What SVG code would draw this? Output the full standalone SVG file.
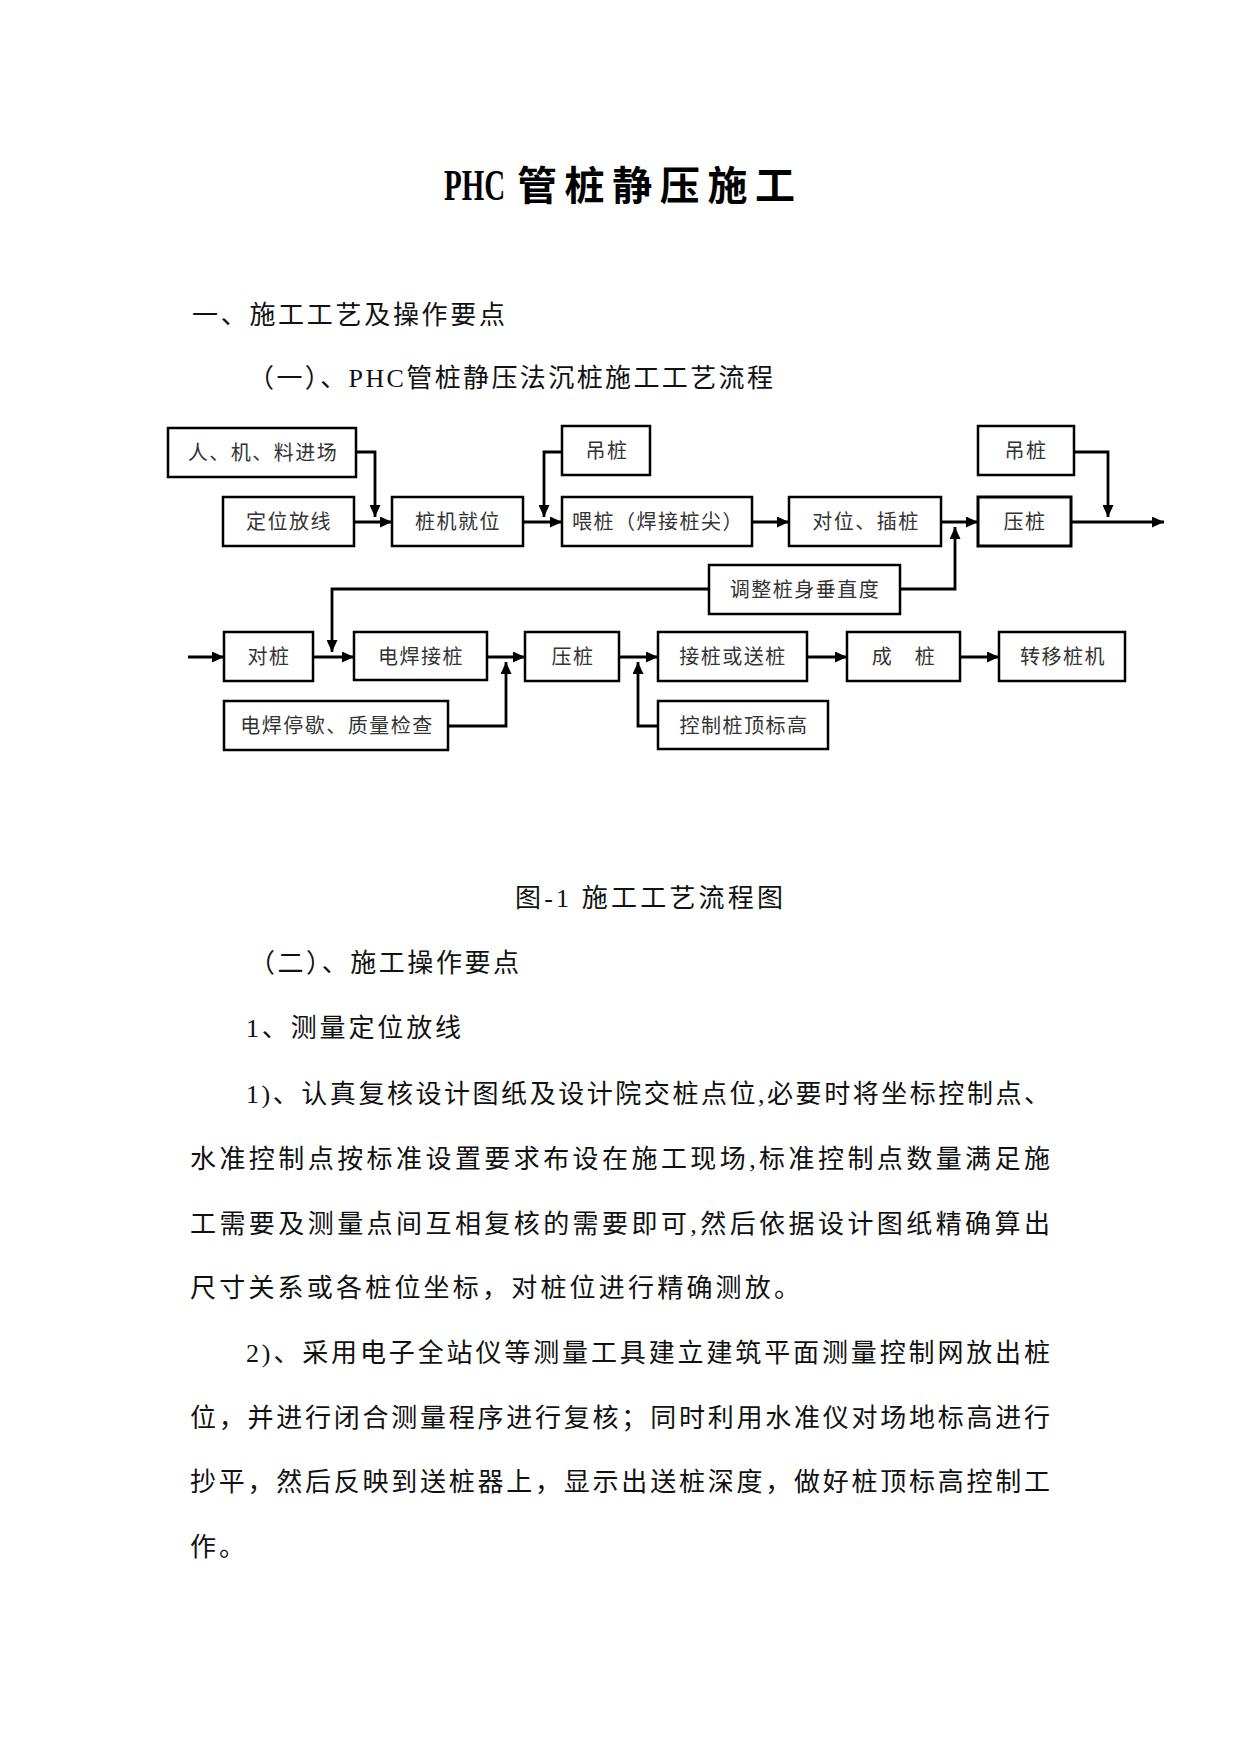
<svg xmlns="http://www.w3.org/2000/svg" width="1241" height="1754" viewBox="0 0 1241 1754">
<style>
.t{font-family:"Liberation Serif","Noto Sans CJK SC",serif;font-size:26px;fill:#111;}
.title{font-family:"Liberation Serif","Noto Sans CJK SC",serif;font-weight:bold;fill:#000;}
.box rect{fill:#fff;stroke:#000;stroke-width:2.5;}
.box text{font-family:"Liberation Serif","Noto Sans CJK SC",serif;font-size:20px;fill:#333;text-anchor:middle;letter-spacing:1.5px;}
.conn path{fill:none;stroke:#000;stroke-width:2.8;}
</style>
<defs>
<marker id="ah" markerUnits="userSpaceOnUse" markerWidth="13" markerHeight="11" refX="12" refY="5.5" orient="auto">
<path d="M0,0 L12,5.5 L0,11 z" fill="#000"/>
</marker>
</defs>
<rect width="1241" height="1754" fill="#fff"/>

<text class="title" transform="translate(444,200) scale(1,1.5)" font-size="29">PHC</text>
<text class="title" x="517" y="200" font-size="40" letter-spacing="7.6">管桩静压施工</text>

<text class="t" x="192" y="324" textLength="313">一、施工工艺及操作要点</text>
<text class="t" x="248" y="387" textLength="525">（一）、PHC管桩静压法沉桩施工工艺流程</text>

<g class="conn">
<path d="M356,452 H375 V517" marker-end="url(#ah)"/>
<path d="M354,522 H392" marker-end="url(#ah)"/>
<path d="M562,452 H544 V517" marker-end="url(#ah)"/>
<path d="M523,522 H562" marker-end="url(#ah)"/>
<path d="M752,522 H789" marker-end="url(#ah)"/>
<path d="M941,522 H978" marker-end="url(#ah)"/>
<path d="M900,589 H955 V527" marker-end="url(#ah)"/>
<path d="M1071,522 H1164" marker-end="url(#ah)"/>
<path d="M1074,452 H1108 V517" marker-end="url(#ah)"/>
<path d="M709,589 H332 V652" marker-end="url(#ah)"/>
<path d="M188,657 H224" marker-end="url(#ah)"/>
<path d="M313,657 H354" marker-end="url(#ah)"/>
<path d="M487,657 H525" marker-end="url(#ah)"/>
<path d="M448,726 H506 V662" marker-end="url(#ah)"/>
<path d="M619,657 H658" marker-end="url(#ah)"/>
<path d="M658,726 H638 V662" marker-end="url(#ah)"/>
<path d="M807,657 H847" marker-end="url(#ah)"/>
<path d="M960,657 H999" marker-end="url(#ah)"/>
</g>

<g id="n1" class="box"><rect x="168" y="428" width="188" height="49"/><text x="263" y="460">人、机、料进场</text></g>
<g id="n2" class="box"><rect x="223" y="497" width="131" height="49"/><text x="289" y="529">定位放线</text></g>
<g id="n3" class="box"><rect x="392" y="497" width="131" height="49"/><text x="458" y="529">桩机就位</text></g>
<g id="n4" class="box"><rect x="562" y="426" width="88" height="49"/><text x="607" y="458">吊桩</text></g>
<g id="n5" class="box"><rect x="562" y="497" width="190" height="49"/><text x="658" y="529">喂桩（焊接桩尖）</text></g>
<g id="n6" class="box"><rect x="789" y="497" width="152" height="49"/><text x="866" y="529">对位、插桩</text></g>
<g id="n7" class="box"><rect x="978" y="497" width="93" height="49" style="stroke-width:3"/><text x="1025" y="529">压桩</text></g>
<g id="n8" class="box"><rect x="978" y="426" width="96" height="49"/><text x="1026" y="458">吊桩</text></g>
<g id="n9" class="box"><rect x="709" y="565" width="191" height="49"/><text x="805" y="597">调整桩身垂直度</text></g>
<g id="n10" class="box"><rect x="224" y="632" width="89" height="49"/><text x="269" y="664">对桩</text></g>
<g id="n11" class="box"><rect x="354" y="632" width="133" height="48"/><text x="421" y="664">电焊接桩</text></g>
<g id="n12" class="box"><rect x="525" y="632" width="94" height="49"/><text x="573" y="664">压桩</text></g>
<g id="n13" class="box"><rect x="224" y="701" width="224" height="49"/><text x="337" y="733">电焊停歇、质量检查</text></g>
<g id="n14" class="box"><rect x="658" y="632" width="149" height="49"/><text x="733" y="664">接桩或送桩</text></g>
<g id="n15" class="box"><rect x="658" y="701" width="170" height="48"/><text x="744" y="733">控制桩顶标高</text></g>
<g id="n16" class="box"><rect x="847" y="632" width="113" height="49"/><text x="904" y="664">成　桩</text></g>
<g id="n17" class="box"><rect x="999" y="632" width="126" height="49"/><text x="1063" y="664">转移桩机</text></g>

<text class="t" x="515" y="907" textLength="268">图-1 施工工艺流程图</text>
<text class="t" x="249" y="972" textLength="270">（二）、施工操作要点</text>
<text class="t" x="246" y="1037" textLength="215">1、测量定位放线</text>

<text class="t" x="246" y="1103" textLength="804">1)、认真复核设计图纸及设计院交桩点位,必要时将坐标控制点、</text>
<text class="t" x="190" y="1168" textLength="860">水准控制点按标准设置要求布设在施工现场,标准控制点数量满足施</text>
<text class="t" x="190" y="1233" textLength="860">工需要及测量点间互相复核的需要即可,然后依据设计图纸精确算出</text>
<text class="t" x="190" y="1297" textLength="610">尺寸关系或各桩位坐标，对桩位进行精确测放。</text>
<text class="t" x="246" y="1362" textLength="804">2)、采用电子全站仪等测量工具建立建筑平面测量控制网放出桩</text>
<text class="t" x="190" y="1427" textLength="860">位，并进行闭合测量程序进行复核；同时利用水准仪对场地标高进行</text>
<text class="t" x="190" y="1491" textLength="860">抄平，然后反映到送桩器上，显示出送桩深度，做好桩顶标高控制工</text>
<text class="t" x="190" y="1556" letter-spacing="3">作。</text>
</svg>
